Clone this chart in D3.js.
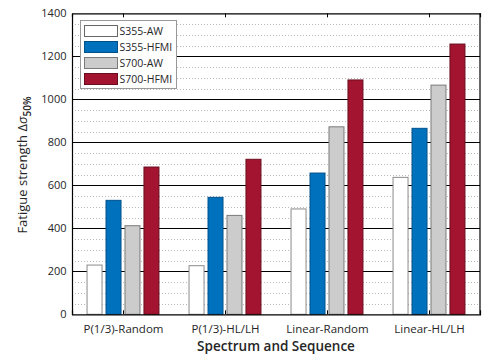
<!DOCTYPE html>
<html>
<head>
<meta charset="utf-8">
<script src="https://cdn.jsdelivr.net/npm/d3@7"></script>
<style>
  body { margin: 0; background: #fff; }
  svg text { font-family: "Open Sans", "Noto Sans", sans-serif; fill: #262626; }
</style>
</head>
<body>
<div id="vis"></div>
<script>

// data
var categories = ['P(1/3)-Random', 'P(1/3)-HL/LH', 'Linear-Random', 'Linear-HL/LH'];
var seriesNames = ['S355-AW', 'S355-HFMI', 'S700-AW', 'S700-HFMI'];
var s355aw   = [229, 226, 490, 637];
var s355hfmi = [530, 544, 657, 865];
var s700aw   = [412, 460, 872, 1066];
var s700hfmi = [685, 721, 1090, 1257];
var yTicks = [0, 200, 400, 600, 800, 1000, 1200, 1400];

var fills   = ['#ffffff', '#0072bd', '#cccccc', '#a2142f'];
var strokes = ['#8a8a8a', '#00508a', '#7a7a7a', '#6a0d1f'];

var width = 483, height = 354;
var margin = { left: 72, right: 3, top: 13.3, bottom: 39.7 };

var svg = d3.select('#vis').append('svg')
  .attr('width', width)
  .attr('height', height);

var x = d3.scaleLinear()
  .domain([0.5, 4.5])
  .range([margin.left, width - margin.right]);

var y = d3.scaleLinear()
  .domain([0, 1400])
  .range([height - margin.bottom, margin.top]);

// minor dotted grid every 50
var minor = d3.range(50, 1400, 50).filter(function(v) { return v % 200 !== 0; });
svg.append('g').selectAll('line')
  .data(minor)
  .enter().append('line')
  .attr('x1', x(0.5)).attr('x2', x(4.5))
  .attr('y1', function(d) { return Math.round(y(d)) + 0.5; })
  .attr('y2', function(d) { return Math.round(y(d)) + 0.5; })
  .attr('stroke', '#b8b8b8')
  .attr('stroke-width', 1)
  .attr('stroke-dasharray', '1,2');

// major solid grid
svg.append('g').selectAll('line')
  .data(yTicks.slice(1, -1))
  .enter().append('line')
  .attr('x1', x(0.5)).attr('x2', x(4.5))
  .attr('y1', function(d) { return Math.round(y(d)) + 0.5; })
  .attr('y2', function(d) { return Math.round(y(d)) + 0.5; })
  .attr('stroke', '#000')
  .attr('stroke-width', 1.2);

// bars
var series = [s355aw, s355hfmi, s700aw, s700hfmi];
var pitch = 0.186, barW = 0.147;
series.forEach(function(vals, si) {
  svg.append('g').selectAll('rect')
    .data(vals)
    .enter().append('rect')
    .attr('x', function(d, i) { return x(i + 1 + (si - 1.5) * pitch - barW / 2); })
    .attr('width', x(barW) - x(0))
    .attr('y', function(d) { return y(d); })
    .attr('height', function(d) { return y(0) - y(d); })
    .attr('fill', fills[si])
    .attr('stroke', strokes[si])
    .attr('stroke-width', 1);
});

// axes box
var yAxis = d3.axisLeft(y).tickValues(yTicks).tickFormat(d3.format('d'))
  .tickSize(0).tickPadding(5.5);
var gy = svg.append('g').attr('transform', 'translate(' + x(0.5) + ',0)').call(yAxis);
gy.select('.domain').attr('stroke', '#000').attr('stroke-width', 1.2);
gy.selectAll('text').attr('font-size', 11).attr('fill', '#333');

var xAxis = d3.axisBottom(x).tickValues([1, 2, 3, 4])
  .tickFormat(function(d) { return categories[d - 1]; })
  .tickSize(-4).tickPadding(11);
var gx = svg.append('g').attr('transform', 'translate(0,' + y(0) + ')').call(xAxis);
gx.select('.domain').attr('stroke', '#000').attr('stroke-width', 1.2);
gx.selectAll('.tick line').attr('stroke', '#000');
gx.selectAll('text').attr('font-size', 11.5).attr('fill', '#333');

var xTop = d3.axisTop(x).tickValues([1, 2, 3, 4]).tickFormat('').tickSize(-4);
var gt = svg.append('g').attr('transform', 'translate(0,' + y(1400) + ')').call(xTop);
gt.select('.domain').attr('stroke', '#000').attr('stroke-width', 1.2);
gt.selectAll('.tick line').attr('stroke', '#000');

svg.append('line')
  .attr('x1', x(4.5)).attr('x2', x(4.5))
  .attr('y1', y(0)).attr('y2', y(1400))
  .attr('stroke', '#000').attr('stroke-width', 1.2);

// axis labels
svg.append('text')
  .attr('x', (x(0.5) + x(4.5)) / 2)
  .attr('y', 350.5)
  .attr('text-anchor', 'middle')
  .attr('font-size', 13.5)
  .attr('font-weight', 600)
  .attr('fill', '#111')
  .text('Spectrum and Sequence');

var ylab = svg.append('text')
  .attr('transform', 'translate(27,165) rotate(-90)')
  .attr('text-anchor', 'middle')
  .attr('font-size', 13)
  .attr('fill', '#111');
ylab.append('tspan').text('Fatigue strength \u0394');
ylab.append('tspan').attr('font-style', 'italic').text('\u03c3');
ylab.append('tspan').attr('font-size', 10).attr('font-weight', 600).attr('dy', 4).text('50%');

// legend
var legend = svg.append('g').attr('transform', 'translate(80.5,20.5)');
legend.append('rect')
  .attr('width', 96).attr('height', 68)
  .attr('fill', '#fff').attr('stroke', '#999');
seriesNames.forEach(function(name, i) {
  legend.append('rect')
    .attr('x', 4).attr('y', 5 + i * 16)
    .attr('width', 33).attr('height', 11)
    .attr('fill', fills[i])
    .attr('stroke', i === 0 ? '#666' : strokes[i]);
  legend.append('text')
    .attr('x', 39).attr('y', 14.5 + i * 16)
    .attr('font-size', 10.5)
    .attr('fill', '#222')
    .text(name);
});

</script>
</body>
</html>
